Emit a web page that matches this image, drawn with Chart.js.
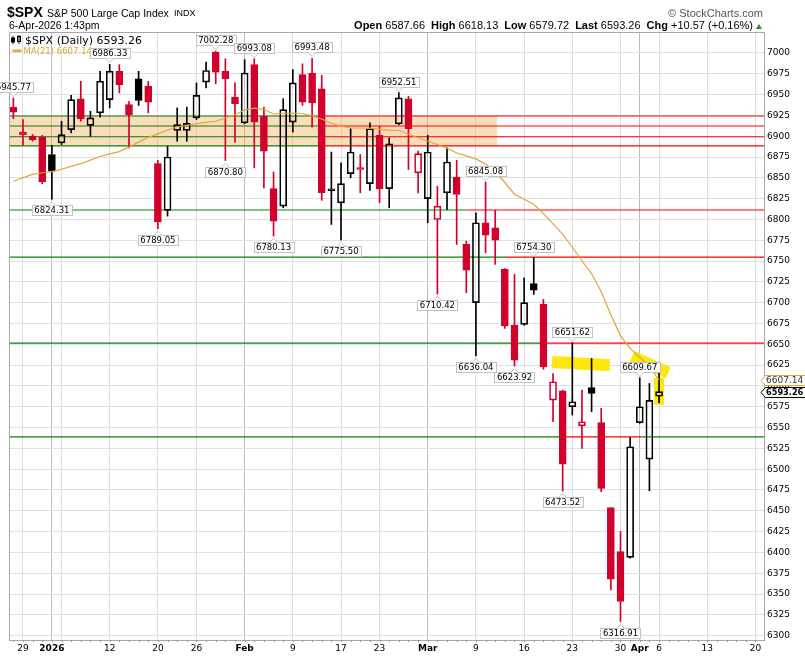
<!DOCTYPE html>
<html>
<head>
<meta charset="utf-8">
<script src="https://cdn.jsdelivr.net/npm/chart.js@4.4.1/dist/chart.umd.min.js"></script>
<style>
body { margin: 0; background: #fff; }
#wrap { position: relative; width: 805px; height: 664px; overflow: hidden; }
canvas { position: absolute; left: 0; top: 0; }
.t { position: absolute; white-space: nowrap; font-family: "Liberation Sans", Arial, sans-serif; color: #000; }
.t b { font-weight: bold; }
.t span { margin-left: 6px; }
</style>
</head>
<body>
<div id="wrap">
  <canvas id="myChart" width="805" height="664"></canvas>
  <div class="t" style="left:7px;top:5px;font-size:14px;line-height:14px;font-weight:bold">$SPX</div>
  <div class="t" style="left:47px;top:8px;font-size:10.5px;line-height:10.5px">S&amp;P 500 Large Cap Index</div>
  <div class="t" style="left:174px;top:9px;font-size:9px;line-height:9px">INDX</div>
  <div class="t" style="left:9px;top:20px;font-size:10.5px;line-height:10.5px">6-Apr-2026 1:43pm</div>
  <div class="t" style="right:42px;top:8px;font-size:11px;line-height:11px;color:#555">&copy;&nbsp;StockCharts.com</div>
  <div class="t" style="right:52px;top:20px;font-size:11px;line-height:11px"><b>Open</b> 6587.66<span><b>High</b> 6618.13</span><span><b>Low</b> 6579.72</span><span><b>Last</b> 6593.26</span><span><b>Chg</b> +10.57 (+0.16%)</span></div>
  <div style="position:absolute;left:756px;top:24px;width:0;height:0;border-left:3.5px solid transparent;border-right:3.5px solid transparent;border-bottom:5px solid #2e8b2e"></div>
</div>
<script>
// trading days, 26 Dec 2025 .. 6 Apr 2026
const dates = ['Dec 26','Dec 29','Dec 30','Dec 31','Jan 2','Jan 5','Jan 6','Jan 7','Jan 8','Jan 9',
  'Jan 12','Jan 13','Jan 14','Jan 15','Jan 16','Jan 20','Jan 21','Jan 22','Jan 23','Jan 26',
  'Jan 27','Jan 28','Jan 29','Jan 30','Feb 2','Feb 3','Feb 4','Feb 5','Feb 6','Feb 9',
  'Feb 10','Feb 11','Feb 12','Feb 13','Feb 17','Feb 18','Feb 19','Feb 20','Feb 23','Feb 24',
  'Feb 25','Feb 26','Feb 27','Mar 2','Mar 3','Mar 4','Mar 5','Mar 6','Mar 9','Mar 10',
  'Mar 11','Mar 12','Mar 13','Mar 16','Mar 17','Mar 18','Mar 19','Mar 20','Mar 23','Mar 24',
  'Mar 25','Mar 26','Mar 27','Mar 30','Mar 31','Apr 1','Apr 2','Apr 6'];

const openP = [6935, 6902, 6900, 6899, 6878, 6892, 6908, 6945, 6913, 6928,
  6944, 6978, 6938, 6969, 6960, 6867, 6811, 6907, 6907, 6922,
  6965, 7001, 6978, 6947, 6916, 6986, 6924, 6837, 6816, 6917,
  6974, 6976, 6957, 6834.5, 6820, 6855, 6862, 6843, 6901, 6837,
  6915, 6945, 6856, 6825, 6800, 6832, 6851, 6770, 6700, 6796,
  6790, 6740, 6673, 6674, 6723, 6698, 6583, 6594, 6575, 6552,
  6598, 6556, 6454, 6401, 6394, 6556, 6512, 6587.66];
const highP = [6945.77, 6920, 6902, 6901, 6889, 6918, 6949, 6966, 6930, 6978,
  6986.33, 6986, 6942, 6978, 6966, 6871, 6888, 6934, 6935, 6964,
  6989, 7002.28, 6993, 6964, 6992, 6993.08, 6935, 6857, 6945, 6980,
  6987, 6993.48, 6973, 6881, 6868, 6909, 6878, 6916, 6912, 6898,
  6952.51, 6948, 6882, 6901, 6840, 6886, 6871, 6774, 6808, 6845.08,
  6811, 6741, 6734, 6730, 6754.30, 6704, 6615, 6595, 6651.62, 6595,
  6633, 6573, 6454, 6425, 6538, 6609.67, 6603, 6618.13];
const lowP = [6921, 6889, 6894, 6843, 6824.31, 6890, 6904, 6918, 6900, 6923,
  6934, 6952, 6886, 6937, 6928, 6789.05, 6804, 6894, 6894, 6920,
  6958, 6963, 6870.80, 6893, 6915, 6862, 6838, 6780.13, 6814, 6905,
  6937, 6911, 6823, 6794, 6775.50, 6850, 6832, 6835, 6820, 6814,
  6914, 6860, 6832, 6796, 6710.42, 6812, 6770, 6712, 6636.04, 6760,
  6746, 6669, 6623.92, 6673, 6710, 6620, 6557, 6473.52, 6565, 6525,
  6569, 6473, 6355, 6316.91, 6393, 6555, 6474, 6579.72];
const closeP = [6929, 6905, 6896, 6845, 6858, 6902, 6944, 6921, 6922, 6966,
  6978, 6962, 6926, 6943, 6941, 6797, 6875, 6914, 6915.5, 6949,
  6979, 6977, 6969, 6939, 6976, 6917, 6882, 6798, 6932, 6964,
  6941, 6940, 6832, 6835.5, 6843, 6881, 6860, 6909, 6837, 6891,
  6946, 6909, 6879, 6881, 6816, 6869, 6830, 6739, 6796, 6781,
  6775, 6672, 6631, 6700, 6715, 6623, 6605, 6506, 6581, 6557,
  6591, 6477, 6368, 6341, 6527, 6575, 6582.69, 6593.26];
const ma21 = [6845.9, 6850.1, 6854.2, 6856.1, 6857.5, 6860.3, 6863.8, 6867.0, 6871.3, 6875.7,
  6878.8, 6881.5, 6887.1, 6892.9, 6898.7, 6902.8, 6907.5, 6911.4, 6913.0, 6915.0,
  6916.7, 6918.0, 6921.9, 6925.8, 6931.6, 6933.7, 6932.1, 6926.7, 6927.5, 6927.9,
  6927.3, 6924.6, 6920.7, 6915.6, 6912.0, 6909.9, 6909.9, 6909.8, 6908.2, 6907.4,
  6907.1, 6902.6, 6898.2, 6894.2, 6890.1, 6885.5, 6879.8, 6876.3, 6872.8, 6866.5,
  6857.3, 6844.4, 6830.3, 6824.2, 6818.3, 6807.0, 6794.8, 6782.2, 6766.6, 6750.4,
  6734.7, 6713.1, 6685.5, 6660.2, 6645.2, 6634.4, 6623.6, 6607.14];

// axis ticks (x in trading-day index, future days run on past the last bar)
const xTickIdx  = [1, 4, 5, 10, 15, 19, 24, 29, 34, 38, 43, 48, 53, 58, 63, 65, 67, 72, 77];
const xTickText = ['29', '2026', '', '12', '20', '26', 'Feb', '9', '17', '23', 'Mar', '9', '16', '23', '30', 'Apr', '6', '13', '20'];
const xMonthIdx = [4, 24, 43, 65];
const yTicks = [6300, 6325, 6350, 6375, 6400, 6425, 6450, 6475, 6500, 6525, 6550, 6575, 6600, 6625, 6650,
  6675, 6700, 6725, 6750, 6775, 6800, 6825, 6850, 6875, 6900, 6925, 6950, 6975, 7000];

// drawn annotations
const levelVals    = [6924.3, 6912.3, 6899.4, 6888.4, 6811.3, 6754.8, 6651.4, 6538.8];
const levelRedFrom = [31.8, 31.8, 31.8, 31.8, 47.1, 51.0, 55.0, 56.9];
const levelRedTo   = [78, 78, 78, 78, 78, 78, 78, 65.2];
const bandLow = 6888.4, bandHigh = 6924.3, bandEnd = 50.2;
const hlA = [[55.9, 6628.9], [61.9, 6624.8]];
const hlB = [[64.2, 6635.3], [67.96, 6615.7]];
const hlC = [[67, 6609.4], [67, 6577.3]];
const highLabelIdx = [0, 10, 21, 25, 31, 40, 49, 54, 58, 65];
const lowLabelIdx  = [4, 15, 22, 27, 34, 44, 48, 52, 57, 63];
const lastClose = 6593.26, lastMA = 6607.14;

const RED = '#d2002c', BLACK = '#000000', MA_COL = '#e5a33a';
const X_MIN = -0.45, X_MAX = 77.89;

const barCol = closeP.map((c, i) => (i > 0 && c >= closeP[i - 1]) ? BLACK : RED);
const hollow = closeP.map((c, i) => c >= openP[i]);

const datasets = [];
function levelLine(x0, x1, v, colour) {
  if (x1 <= x0) return;
  datasets.push({ type: 'line', data: [{ x: x0, y: v }, { x: x1, y: v }], borderColor: colour, borderWidth: 1.1, pointRadius: 0, order: 10 });
}
levelVals.forEach((v, k) => {
  levelLine(X_MIN, levelRedFrom[k], v, '#0a800a');
  levelLine(levelRedFrom[k], levelRedTo[k], v, '#ff0000');
  levelLine(levelRedTo[k], X_MAX, v, '#0a800a');
});
[hlA, hlB, hlC].forEach(pts => {
  datasets.push({ type: 'line', data: pts.map(p => ({ x: p[0], y: p[1] })), borderColor: 'rgba(255,230,0,0.95)', borderWidth: pts === hlC ? 10 : 12, borderCapStyle: 'butt', pointRadius: 0, order: 9 });
});
datasets.push({
  type: 'bar', data: dates.map((d, i) => ({ x: i, y: [Math.max(openP[i], closeP[i]), highP[i]] })),
  backgroundColor: barCol, borderWidth: 0, barThickness: 1, grouped: false, order: 6
});
datasets.push({
  type: 'bar', data: dates.map((d, i) => ({ x: i, y: [lowP[i], Math.min(openP[i], closeP[i])] })),
  backgroundColor: barCol, borderWidth: 0, barThickness: 1, grouped: false, order: 6
});
datasets.push({
  type: 'bar', data: dates.map((d, i) => ({ x: i, y: [openP[i], closeP[i]] })),
  backgroundColor: barCol.map((c, i) => hollow[i] ? 'rgba(0,0,0,0)' : c),
  borderColor: barCol, borderWidth: 1, borderSkipped: false, minBarLength: 2,
  barThickness: 7, grouped: false, order: 5
});
datasets.push({
  type: 'line', data: ma21.map((v, i) => ({ x: i, y: v })),
  borderColor: MA_COL, borderWidth: 1.2, pointRadius: 0, order: 1
});

function priceBox(ctx, cx, yEdge, text, above) {
  ctx.font = '8.5px "DejaVu Sans"';
  const w = Math.round(ctx.measureText(text).width) + 5, h = 10, gap = 6;
  const bx = Math.round(cx - w / 2) + 0.5;
  const by = above ? Math.round(yEdge - gap - h) + 0.5 : Math.round(yEdge + gap) + 0.5;
  ctx.fillStyle = '#fff';
  ctx.strokeStyle = '#c2c2c2';
  ctx.lineWidth = 1;
  ctx.fillRect(bx, by, w, h);
  ctx.strokeRect(bx, by, w, h);
  const ey = above ? by + h : by;
  const ty = above ? ey + 4 : ey - 4;
  ctx.beginPath();
  ctx.moveTo(cx - 4, ey); ctx.lineTo(cx, ty); ctx.lineTo(cx + 4, ey);
  ctx.fill();
  ctx.stroke();
  ctx.fillStyle = '#000';
  ctx.textAlign = 'center';
  ctx.textBaseline = 'middle';
  ctx.fillText(text, cx, by + h / 2 + 0.5);
}

function sideTag(ctx, yc, text, border, bold) {
  yc = Math.round(yc) + 0.5;
  ctx.beginPath();
  ctx.moveTo(761, yc); ctx.lineTo(765.5, yc - 5); ctx.lineTo(806, yc - 5);
  ctx.lineTo(806, yc + 5); ctx.lineTo(765.5, yc + 5); ctx.closePath();
  ctx.fillStyle = '#fff';
  ctx.fill();
  ctx.strokeStyle = border;
  ctx.lineWidth = 1;
  ctx.stroke();
  ctx.font = bold ? 'bold 8.2px "DejaVu Sans"' : '9px "DejaVu Sans"';
  ctx.fillStyle = bold ? '#000' : '#333';
  ctx.textAlign = 'left';
  ctx.textBaseline = 'middle';
  ctx.fillText(text, 766, yc + 0.5);
}

const decor = {
  id: 'decor',
  beforeDatasetsDraw(chart) {
    const { ctx, chartArea: a, scales: { x, y } } = chart;
    ctx.save();
    ctx.beginPath();
    ctx.rect(a.left, a.top, a.right - a.left, a.bottom - a.top);
    ctx.clip();
    const y0 = y.getPixelForValue(bandHigh), y1 = y.getPixelForValue(bandLow);
    ctx.fillStyle = 'rgba(240,160,64,0.36)';
    ctx.fillRect(a.left, y0, x.getPixelForValue(bandEnd) - a.left, y1 - y0);
    ctx.restore();
  },
  afterDraw(chart) {
    const { ctx, chartArea: a, scales: { x, y } } = chart;
    ctx.save();
    // frame
    ctx.strokeStyle = '#a8a8a8';
    ctx.lineWidth = 1;
    ctx.beginPath();
    ctx.moveTo(a.left + 0.5, a.bottom); ctx.lineTo(a.left + 0.5, a.top + 0.5); ctx.lineTo(a.right, a.top + 0.5);
    ctx.stroke();
    // daily minor ticks under the axis
    ctx.strokeStyle = '#999';
    for (let i = 0; i <= 77; i++) {
      const px = Math.round(x.getPixelForValue(i)) + 0.5;
      ctx.beginPath(); ctx.moveTo(px, a.bottom); ctx.lineTo(px, a.bottom + 2); ctx.stroke();
    }
    // legend
    ctx.fillStyle = '#000';
    ctx.strokeStyle = '#000';
    ctx.fillRect(12.5, 36, 1, 8); ctx.fillRect(11, 37.5, 4, 5);
    ctx.fillRect(18.5, 35, 1, 9); ctx.strokeRect(17.5, 36.5, 3, 5);
    ctx.font = '11px "DejaVu Sans"';
    ctx.textAlign = 'left';
    ctx.textBaseline = 'alphabetic';
    ctx.fillText('$SPX (Daily) ' + lastClose.toFixed(2), 25, 43.5);
    ctx.fillStyle = MA_COL;
    ctx.fillRect(12.5, 49.5, 9, 2.5);
    ctx.font = '8.5px "DejaVu Sans"';
    ctx.fillText('MA(21) ' + lastMA.toFixed(2), 23.5, 54);
    // high / low labels
    highLabelIdx.forEach(i => priceBox(ctx, x.getPixelForValue(i), y.getPixelForValue(highP[i]), highP[i].toFixed(2), true));
    lowLabelIdx.forEach(i => priceBox(ctx, x.getPixelForValue(i), y.getPixelForValue(lowP[i]), lowP[i].toFixed(2), false));
    // last values on the price axis
    sideTag(ctx, y.getPixelForValue(lastMA), lastMA.toFixed(2), MA_COL, false);
    sideTag(ctx, y.getPixelForValue(lastClose), lastClose.toFixed(2), '#000', true);
    ctx.restore();
  }
};

const chart = new Chart(document.getElementById('myChart'), {
  type: 'bar',
  data: { datasets: datasets },
  options: {
    responsive: false,
    animation: false,
    events: [],
    layout: { padding: { left: 9, top: 32, right: 0, bottom: 0 } },
    plugins: { legend: { display: false }, tooltip: { enabled: false } },
    scales: {
      x: {
        type: 'linear', min: X_MIN, max: X_MAX, offset: false,
        afterBuildTicks: s => { s.ticks = xTickIdx.map(v => ({ value: v })); },
        afterFit: s => { s.height = 24; },
        ticks: {
          autoSkip: false, maxRotation: 0, padding: 3, color: '#000',
          callback: (v, i) => xTickText[i],
          font: c => ({ family: 'DejaVu Sans', size: 9, weight: (c.tick && xMonthIdx.includes(c.tick.value)) ? 'bold' : 'normal' })
        },
        grid: {
          offset: false, drawTicks: false,
          color: c => (c.tick && xMonthIdx.includes(c.tick.value)) ? '#bdbdbd' : '#e0e0e0'
        },
        border: { color: '#a8a8a8' }
      },
      y: {
        position: 'right', min: 6294.8, max: 7025.2,
        afterBuildTicks: s => { s.ticks = yTicks.map(v => ({ value: v })); },
        afterFit: s => { s.width = 41; },
        ticks: { padding: 3, color: '#000', font: { family: 'DejaVu Sans', size: 9 }, callback: v => String(v) },
        grid: { drawTicks: false, color: '#e0e0e0' },
        border: { color: '#a8a8a8' }
      }
    }
  },
  plugins: [decor]
});
</script>
</body>
</html>
